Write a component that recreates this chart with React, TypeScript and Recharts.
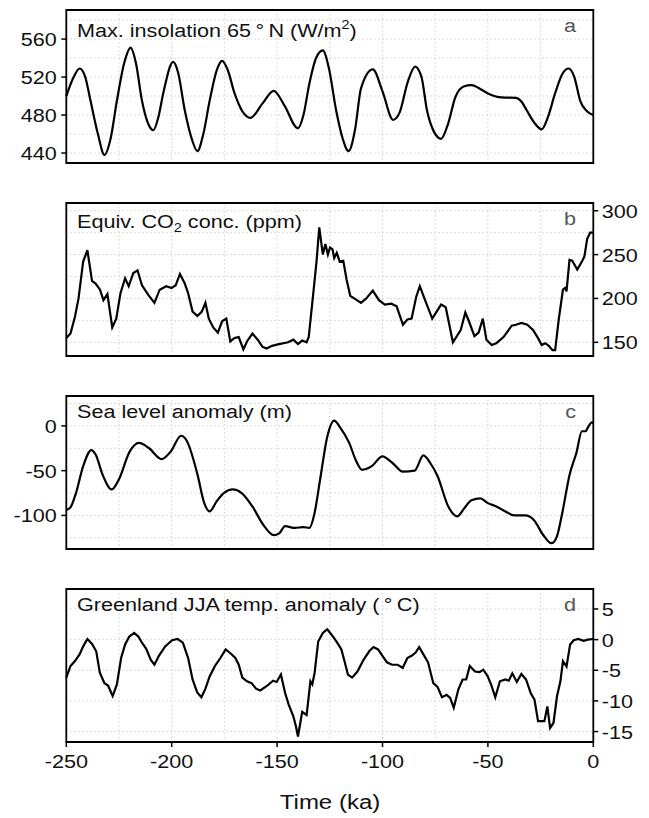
import { LineChart, Line, XAxis, YAxis, CartesianGrid, ReferenceArea } from "recharts";

const FONT = "'Liberation Sans', Arial, Helvetica, sans-serif";
const SX = 1.2;
const PLOT_H = 153;
const LEFT_W = 66.3;
const RIGHT_W = 55.7;

const timeTicks = [-250, -200, -150, -100, -50, 0];
const timeGrid = [-225, -200, -175, -150, -125, -100, -75, -50, -25];

// [ka, W/m2]
const insolation: [number, number][] = [
  [-250, 500], [-246.5, 520], [-243.7, 529], [-241, 520], [-238.6, 496], [-235, 460],
  [-231.9, 438], [-229, 455], [-226, 495], [-222.5, 535], [-219.5, 551], [-217, 535],
  [-214.1, 495], [-211, 470], [-208.7, 464], [-206.3, 478], [-204, 503], [-199.3, 536],
  [-197, 525], [-193.8, 485], [-190.5, 455], [-187.8, 442], [-185, 460], [-182, 495],
  [-178.5, 528], [-176.1, 537], [-173.5, 528], [-170.2, 503], [-166.5, 484], [-162.6, 477],
  [-157, 492], [-151.6, 505.5], [-146.5, 490], [-140.1, 466], [-137.5, 480], [-134.7, 513],
  [-131.5, 540], [-128.3, 548], [-125.5, 530], [-122, 485], [-119, 456], [-116.1, 442],
  [-113, 465], [-110.2, 508], [-104.6, 528], [-100, 505], [-95, 475], [-92, 482],
  [-88, 515], [-84.5, 531], [-81.5, 520], [-78.9, 485], [-75.5, 462], [-72.2, 455],
  [-69, 470], [-65.4, 499], [-61.5, 510], [-57.8, 511.5], [-54, 508], [-50.2, 503],
  [-43.4, 498.5], [-36.7, 498], [-34, 494], [-31.6, 485], [-28, 472], [-24.5, 465],
  [-21.5, 478], [-18.1, 503], [-14.5, 524], [-11.7, 529], [-9, 520], [-6.2, 495],
  [-3, 484], [0, 480],
];

// [ka, ppm]
const co2: [number, number][] = [
  [-250, 155], [-248, 160], [-245.9, 179], [-244.2, 200], [-242, 242], [-240, 255],
  [-237.8, 220], [-236.1, 217], [-234, 210], [-232.4, 198], [-230.5, 205], [-228.2, 167],
  [-226.3, 177], [-224.3, 206], [-222.1, 223], [-220.4, 214], [-218.2, 229], [-216.2, 232],
  [-214.1, 215], [-211.1, 204], [-208.2, 195], [-205.7, 210], [-202.6, 214], [-200.1, 212],
  [-198.1, 215], [-196.1, 228], [-193.8, 217], [-192.2, 206], [-190.1, 185], [-187.8, 180],
  [-185.7, 185], [-184, 195], [-182.4, 177], [-180.3, 167], [-178.1, 161], [-176.1, 174],
  [-174.1, 177], [-172.2, 151], [-170.2, 155], [-168.2, 156], [-166, 142], [-164.3, 151],
  [-161.7, 160], [-159.2, 153], [-157, 145], [-155, 143], [-152.4, 146], [-149.1, 148],
  [-144.8, 150], [-142.3, 153], [-140.1, 148], [-138.1, 152], [-136, 150], [-135, 156],
  [-133, 202], [-131.3, 242], [-130, 281], [-128.3, 250], [-127.1, 262], [-125.9, 250],
  [-124.9, 258], [-123.7, 256], [-122.9, 246], [-121.7, 252], [-120.3, 242], [-118.6, 243],
  [-117, 221], [-115.3, 203], [-112.7, 199], [-110.2, 195], [-107.7, 200], [-104.6, 209],
  [-101.7, 198], [-98.9, 193], [-95.8, 194], [-93.3, 191], [-90.3, 170], [-88.2, 176],
  [-86.2, 177], [-84, 202], [-82.3, 214], [-79.8, 198], [-76.4, 177], [-72.2, 193],
  [-70, 190], [-66.6, 150], [-62.9, 164], [-60.7, 184], [-59, 174], [-56.4, 157],
  [-54.4, 161], [-52.4, 177], [-50.7, 153], [-48.2, 147], [-46, 149], [-42.6, 156],
  [-38.7, 169], [-36.7, 170], [-34.1, 172], [-31.3, 170], [-28.6, 164], [-26.5, 156],
  [-24.5, 147], [-22.8, 149], [-21.1, 146], [-19.4, 141], [-18.1, 141], [-16.4, 176],
  [-14.4, 210], [-13.4, 212], [-12.7, 208], [-11.3, 244], [-10, 243], [-7.6, 233],
  [-5.4, 242], [-4.2, 248], [-2.9, 268], [-1.5, 275], [0, 275],
];

// [ka, m]
const seaLevel: [number, number][] = [
  [-250, -94], [-248, -91], [-245.4, -75], [-242, -45], [-238.1, -27], [-236.1, -32],
  [-232.7, -55], [-228.5, -71], [-225.1, -60], [-220, -29], [-215.5, -19], [-210.7, -25],
  [-204.8, -37], [-200.6, -29], [-195.5, -11], [-193, -16], [-187.9, -53], [-184.6, -86],
  [-182, -95.5], [-178.6, -84], [-175.3, -75], [-171, -71], [-166.8, -75], [-161.7, -90],
  [-156.7, -110], [-151.6, -122], [-149, -120], [-146.2, -112], [-141.5, -114], [-137.6, -113],
  [-134.7, -114], [-132.2, -97], [-129.6, -60], [-126.2, -12], [-122.9, 6], [-120.3, -1],
  [-115.8, -19], [-112.7, -38], [-109.7, -49], [-105.1, -45], [-100.1, -34], [-95, -42],
  [-90.4, -51], [-84.8, -50], [-80.6, -33], [-77.2, -42], [-73.9, -56], [-68.8, -90],
  [-64.6, -101], [-61.2, -92], [-57.8, -83], [-53.6, -81], [-50.2, -86], [-46, -90],
  [-41.7, -95.5], [-37.5, -100], [-32.4, -100], [-28.2, -105], [-24, -121], [-19.8, -131],
  [-17.2, -123], [-14.7, -97], [-11.3, -55], [-8, -30], [-5.4, -6], [-3.7, -6],
  [-2.4, -1], [-0.7, 4], [0, 3],
];

// [ka, °C]
const greenland: [number, number][] = [
  [-250, -6.2], [-248, -4.3], [-245.9, -3.5], [-243.7, -2.4], [-242, -1.1], [-240, 0.1],
  [-237.8, -0.7], [-235.8, -1.9], [-234.1, -5.4], [-231.9, -7.1], [-230.2, -7.5], [-228, -9.2],
  [-226, -7.3], [-224, -3], [-222.1, -0.8], [-220.1, 0.5], [-217.8, 1.1], [-215.8, 0.5],
  [-214.1, -0.5], [-212.1, -1.5], [-209.9, -3.3], [-208.2, -4.1], [-206, -2.6], [-203.1, -1.1],
  [-199.8, -0.1], [-197.2, 0.1], [-194.7, -0.5], [-192.2, -3], [-190.1, -6.5], [-187.9, -8.6],
  [-185.9, -9.4], [-184, -8], [-182, -6], [-179.5, -4.3], [-176.9, -3], [-174.4, -1.6],
  [-171.9, -2.3], [-169.8, -3], [-168.2, -4.1], [-166.5, -6.2], [-164.3, -6.8], [-162.1, -7.1],
  [-160, -8], [-158, -8.3], [-155, -7.6], [-151.9, -6.7], [-150.2, -6.9], [-148.2, -5.7],
  [-146.2, -8.7], [-144.5, -10.6], [-142.3, -12.5], [-141.1, -14.1], [-140.1, -15.8], [-138.1, -11.8],
  [-136, -12.3], [-134.2, -6.8], [-133.3, -7.3], [-132.2, -5.4], [-130.5, -0.3], [-128.3, 1.1],
  [-126.2, 1.7], [-123.7, 0.6], [-121.5, -0.5], [-119.5, -1.6], [-117.8, -3.8], [-116.4, -5.7],
  [-114.4, -6.2], [-111.9, -5.2], [-109, -3.3], [-106.3, -1.9], [-104.3, -1.2], [-102.1, -1.6],
  [-100.1, -2.6], [-97.9, -3.7], [-95.5, -4.1], [-92.8, -4.1], [-90.4, -4.6], [-88.2, -3],
  [-86, -2.6], [-84.3, -2.1], [-82.6, -1.2], [-80.6, -2.4], [-78.4, -3.7], [-75.9, -7.1],
  [-73.9, -7.7], [-71.8, -9.4], [-69.6, -9], [-67.9, -9.5], [-66.2, -11.1], [-64, -8.1],
  [-62, -6.5], [-60.3, -6.5], [-58.6, -4.3], [-56.1, -5.2], [-53.9, -5.3], [-52.2, -4.9],
  [-50.2, -5.9], [-48.5, -7.3], [-46.5, -9.4], [-44.3, -6.8], [-41.7, -6.5], [-40.1, -6.7],
  [-38.4, -5.5], [-36.3, -6.9], [-34.1, -5.6], [-31.9, -6.5], [-29.6, -8.8], [-27.9, -9.8],
  [-26.2, -13.3], [-23.2, -13.3], [-21.8, -10.9], [-20.5, -14.4], [-18.9, -13.6], [-17.2, -9.2],
  [-15.6, -6.8], [-14.4, -3.5], [-12.7, -4.4], [-11, -0.8], [-9.3, -0.1], [-7.1, 0.1],
  [-4.6, -0.2], [-2.6, 0], [0, 0.1],
];

const insolTicks = [440, 480, 520, 560];
const insolGrid = [440, 460, 480, 500, 520, 540, 560, 580];
const co2Ticks = [150, 200, 250, 300];
const co2Grid = [150, 175, 200, 225, 250, 275, 300];
const seaTicks = [-100, -50, 0];
const seaGrid = [-125, -100, -75, -50, -25, 0, 25];
const tempTicks = [-15, -10, -5, 0, 5];
const tempGrid = [-15, -10, -5, 0, 5];

function YTick(props: any) {
  const { x, y, payload, side } = props;
  const left = side === "left";
  const px = left ? x - 4.6 : x + 3.4;
  return (
    <text
      transform={`translate(${px},${y + 7}) scale(${SX},1)`}
      textAnchor={left ? "end" : "start"}
      fontSize={18}
      fontFamily={FONT}
      fill="#111"
    >
      {payload.value}
    </text>
  );
}

function XTick(props: any) {
  const { x, y, payload } = props;
  return (
    <text
      transform={`translate(${x},${y + 21}) scale(${SX},1)`}
      textAnchor="middle"
      fontSize={18}
      fontFamily={FONT}
      fill="#111"
    >
      {payload.value}
    </text>
  );
}

type PanelProps = {
  series: [number, number][];
  domain: [number, number];
  ticks: number[];
  grid: number[];
  side: "left" | "right";
  curve: "monotone" | "linear";
  top: number;
  bottomAxis?: boolean;
};

function Panel({ series, domain, ticks, grid, side, curve, top, bottomAxis }: PanelProps) {
  const data = series.map(([t, v]) => ({ t, v }));
  const axisH = bottomAxis ? 60 : 0;
  const height = 10 + PLOT_H + axisH + 10;
  return (
    <div style={{ position: "absolute", left: 0, top: top - 10 }}>
      <LineChart
        width={649}
        height={height}
        data={data}
        margin={{
          top: 10,
          bottom: 10,
          left: side === "left" ? 0 : LEFT_W,
          right: side === "right" ? 0 : RIGHT_W,
        }}
      >
        <CartesianGrid
          stroke="#cfcfcf"
          strokeDasharray="1.5 2.5"
          horizontalValues={grid}
          verticalValues={timeGrid}
        />
        <XAxis
          type="number"
          dataKey="t"
          domain={[-250, 0]}
          ticks={bottomAxis ? timeTicks : timeGrid}
          hide={!bottomAxis}
          height={axisH}
          axisLine={false}
          tickLine={{ stroke: "#000", strokeWidth: 1.5 }}
          tickSize={5}
          tickMargin={0}
          tick={(p: any) => <XTick {...p} />}
          interval={0}
        />
        <YAxis
          type="number"
          orientation={side}
          domain={domain}
          ticks={ticks}
          width={side === "left" ? LEFT_W : RIGHT_W}
          axisLine={false}
          tickLine={{ stroke: "#000", strokeWidth: 1.5 }}
          tickSize={5}
          tickMargin={0}
          interval={0}
          tick={(p: any) => <YTick {...p} side={side} />}
        />
        <ReferenceArea
          x1={-250}
          x2={0}
          y1={domain[0]}
          y2={domain[1]}
          fill="none"
          fillOpacity={0}
          stroke="#000"
          strokeWidth={1.8}
          strokeOpacity={1}
        />
        <Line
          dataKey="v"
          type={curve}
          stroke="#000"
          strokeWidth={2.2}
          dot={false}
          activeDot={false}
          isAnimationActive={false}
        />
      </LineChart>
    </div>
  );
}

const titleStyle = (baseline: number): React.CSSProperties => ({
  position: "absolute",
  left: 77.3,
  top: baseline - 15.2,
  fontFamily: FONT,
  fontSize: 18,
  lineHeight: "18px",
  color: "#111",
  whiteSpace: "nowrap",
  transform: `scaleX(${SX})`,
  transformOrigin: "left",
});

const letterStyle = (baseline: number): React.CSSProperties => ({
  position: "absolute",
  right: 73.3,
  top: baseline - 15.2,
  fontFamily: FONT,
  fontSize: 18,
  lineHeight: "18px",
  color: "#555",
  transform: `scaleX(${SX})`,
  transformOrigin: "right",
});

const sup: React.CSSProperties = { fontSize: 12, position: "relative", top: -8, lineHeight: 0 };
const sub: React.CSSProperties = { fontSize: 12, position: "relative", top: 4, lineHeight: 0 };

export default function App() {
  return (
    <div style={{ position: "absolute", left: 0, top: 0, width: 649, height: 818, background: "#fff", overflow: "hidden" }}>
      <Panel series={insolation} domain={[429.5, 590.6]} ticks={insolTicks} grid={insolGrid} side="left" curve="monotone" top={10} />
      <Panel series={co2} domain={[134.4, 308.8]} ticks={co2Ticks} grid={co2Grid} side="right" curve="linear" top={203.3} />
      <Panel series={seaLevel} domain={[-137.5, 33.4]} ticks={seaTicks} grid={seaGrid} side="left" curve="monotone" top={396} />
      <Panel series={greenland} domain={[-16.7, 8.26]} ticks={tempTicks} grid={tempGrid} side="right" curve="linear" top={589.3} bottomAxis />

      <div style={titleStyle(37.3)}>
        Max. insolation 65{"\u2009°\u2009"}N (W/m<span style={sup}>2</span>)
      </div>
      <div style={letterStyle(32.3)}>a</div>
      <div style={titleStyle(227.7)}>
        Equiv. CO<span style={sub}>2</span> conc. (ppm)
      </div>
      <div style={letterStyle(225)}>b</div>
      <div style={titleStyle(417.7)}>Sea level anomaly (m)</div>
      <div style={letterStyle(418)}>c</div>
      <div style={titleStyle(611)}>
        Greenland JJA temp. anomaly ({"\u2009°\u2009"}C)
      </div>
      <div style={letterStyle(610.7)}>d</div>

      <div
        style={{
          position: "absolute",
          left: 329.8,
          top: 792,
          fontFamily: FONT,
          fontSize: 20,
          lineHeight: "20px",
          color: "#111",
          whiteSpace: "nowrap",
          transform: `translateX(-50%) scaleX(${SX})`,
        }}
      >
        Time (ka)
      </div>
    </div>
  );
}
